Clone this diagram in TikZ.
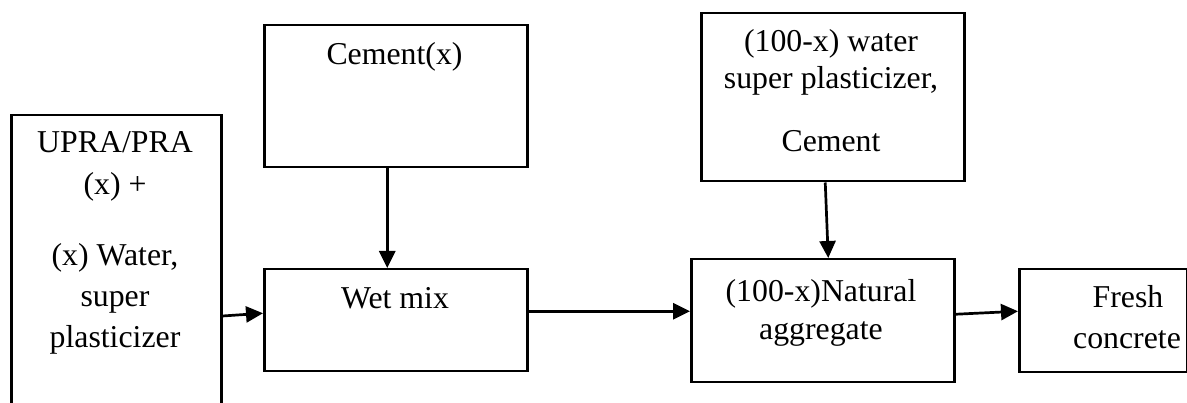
\documentclass[tikz,border=0pt]{standalone}
\usepackage{fontspec}
\setmainfont{Liberation Serif}
\usetikzlibrary{arrows.meta}
\begin{document}
\begin{tikzpicture}[x=1pt,y=-1pt,
  box/.style={draw=black,line width=2.5pt,inner sep=0pt,anchor=north west},
  txt/.style={anchor=base,inner sep=0pt,font=\fontsize{31.8}{38}\selectfont},
  flow/.style={line width=2.7pt,-{Triangle[length=17pt,width=16pt]}}]
\useasboundingbox (0,0) rectangle (1187,403);
\clip (0,0) rectangle (1187,403);

% boxes
\node[box,minimum width=210pt,minimum height=310pt] (upra) at (10,114) {};
\node[box,minimum width=263pt,minimum height=142pt] (cem) at (263,24) {};
\node[box,minimum width=263pt,minimum height=102pt] (wet) at (263,268) {};
\node[box,minimum width=263pt,minimum height=168pt] (wat) at (700,12) {};
\node[box,minimum width=263pt,minimum height=123pt] (nat) at (690,258) {};
\node[box,minimum width=168pt,minimum height=103pt] (fresh) at (1018,268) {};

% labels
\node[txt] (u1) at (115,153) {UPRA/PRA};
\node[txt] (u2) at (115,195) {(x) +};
\node[txt] (u3) at (115,266) {(x) Water,};
\node[txt] (u4) at (115,307) {super};
\node[txt] (u5) at (115,348) {plasticizer};
\node[txt] (c1) at (394.5,65) {Cement(x)};
\node[txt] (w1) at (395,309) {Wet mix};
\node[txt] (t1) at (831,52) {(100-x) water};
\node[txt] (t2) at (831,88.5) {super plasticizer,};
\node[txt] (t3) at (831,152) {Cement};
\node[txt] (n1) at (821,301.5) {(100-x)Natural};
\node[txt] (n2) at (821,340) {aggregate};
\node[txt] (f1) at (1128,308) {Fresh};
\node[txt] (f2) at (1127,349) {concrete};

% connectors
\draw[flow] ([xshift=-8.5pt]cem.south) -- ([xshift=-8.5pt]wet.north);
\draw[flow] ([xshift=-7.5pt]wat.south) -- ([xshift=5.5pt]nat.north);
\draw[flow] (upra.east |- 0,316) -- ([yshift=7pt]wet.west);
\draw[flow] ([yshift=9pt]wet.east) -- ([yshift=9.5pt]nat.west);
\draw[flow] ([yshift=6.5pt]nat.east) -- ([yshift=9.5pt]fresh.west);
\end{tikzpicture}
\end{document}
